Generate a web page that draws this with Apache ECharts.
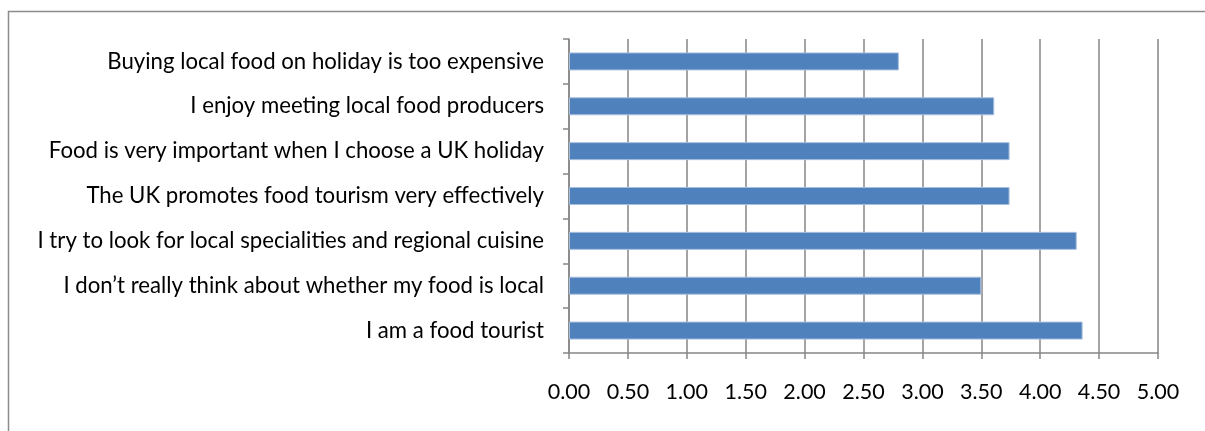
<!DOCTYPE html>
<html><head><meta charset="utf-8">
<script src="https://cdn.jsdelivr.net/npm/echarts@6/dist/echarts.min.js"></script>
<style>html,body{margin:0;padding:0;background:#fff}#c{width:1205px;height:431px}</style>
</head><body><div id="c"></div>
<script>
const categories = [
  "I am a food tourist",
  "I don\u2019t really think about whether my food is local",
  "I try to look for local specialities and regional cuisine",
  "The UK promotes food tourism very effectively",
  "Food is very important when I choose a UK holiday",
  "I enjoy meeting local food producers",
  "Buying local food on holiday is too expensive"
];
const values = [4.36, 3.50, 4.31, 3.74, 3.74, 3.61, 2.80];
const xTicks = { min: 0, max: 5, interval: 0.5 };

const FONT = "Lato";
const chart = echarts.init(document.getElementById('c'), null, {renderer: 'canvas'});
chart.setOption({
  animation: false,
  backgroundColor: '#fff',
  graphic: [{
    type: 'rect', left: 6, top: 9,
    shape: {width: 1300, height: 500},
    style: {fill: 'none', stroke: '#8c8c8c', lineWidth: 1.5}
  }],
  grid: {left: 569, right: 47, top: 39, bottom: 78, containLabel: false},
  xAxis: {
    type: 'value', min: xTicks.min, max: xTicks.max, interval: xTicks.interval,
    axisLine: {show: true, lineStyle: {color: '#868686', width: 1.5}},
    axisTick: {show: true, length: 6, lineStyle: {color: '#868686', width: 1.5}},
    splitLine: {show: true, lineStyle: {color: '#868686', width: 1.5}},
    axisLabel: {color: '#000', fontFamily: FONT, fontSize: 21.5, margin: 28,
      formatter: v => v.toFixed(2)}
  },
  yAxis: {
    type: 'category', data: categories,
    axisLine: {show: true, lineStyle: {color: '#868686', width: 1.5}},
    axisTick: {show: true, length: 6, lineStyle: {color: '#868686', width: 1.5}},
    axisLabel: {color: '#000', fontFamily: FONT, fontSize: 22.2, margin: 25}
  },
  series: [{
    type: 'bar', data: values, barWidth: 18,
    itemStyle: {color: '#4f81bd', borderColor: '#a7bfde', borderWidth: 1}
  }]
});
</script></body></html>
